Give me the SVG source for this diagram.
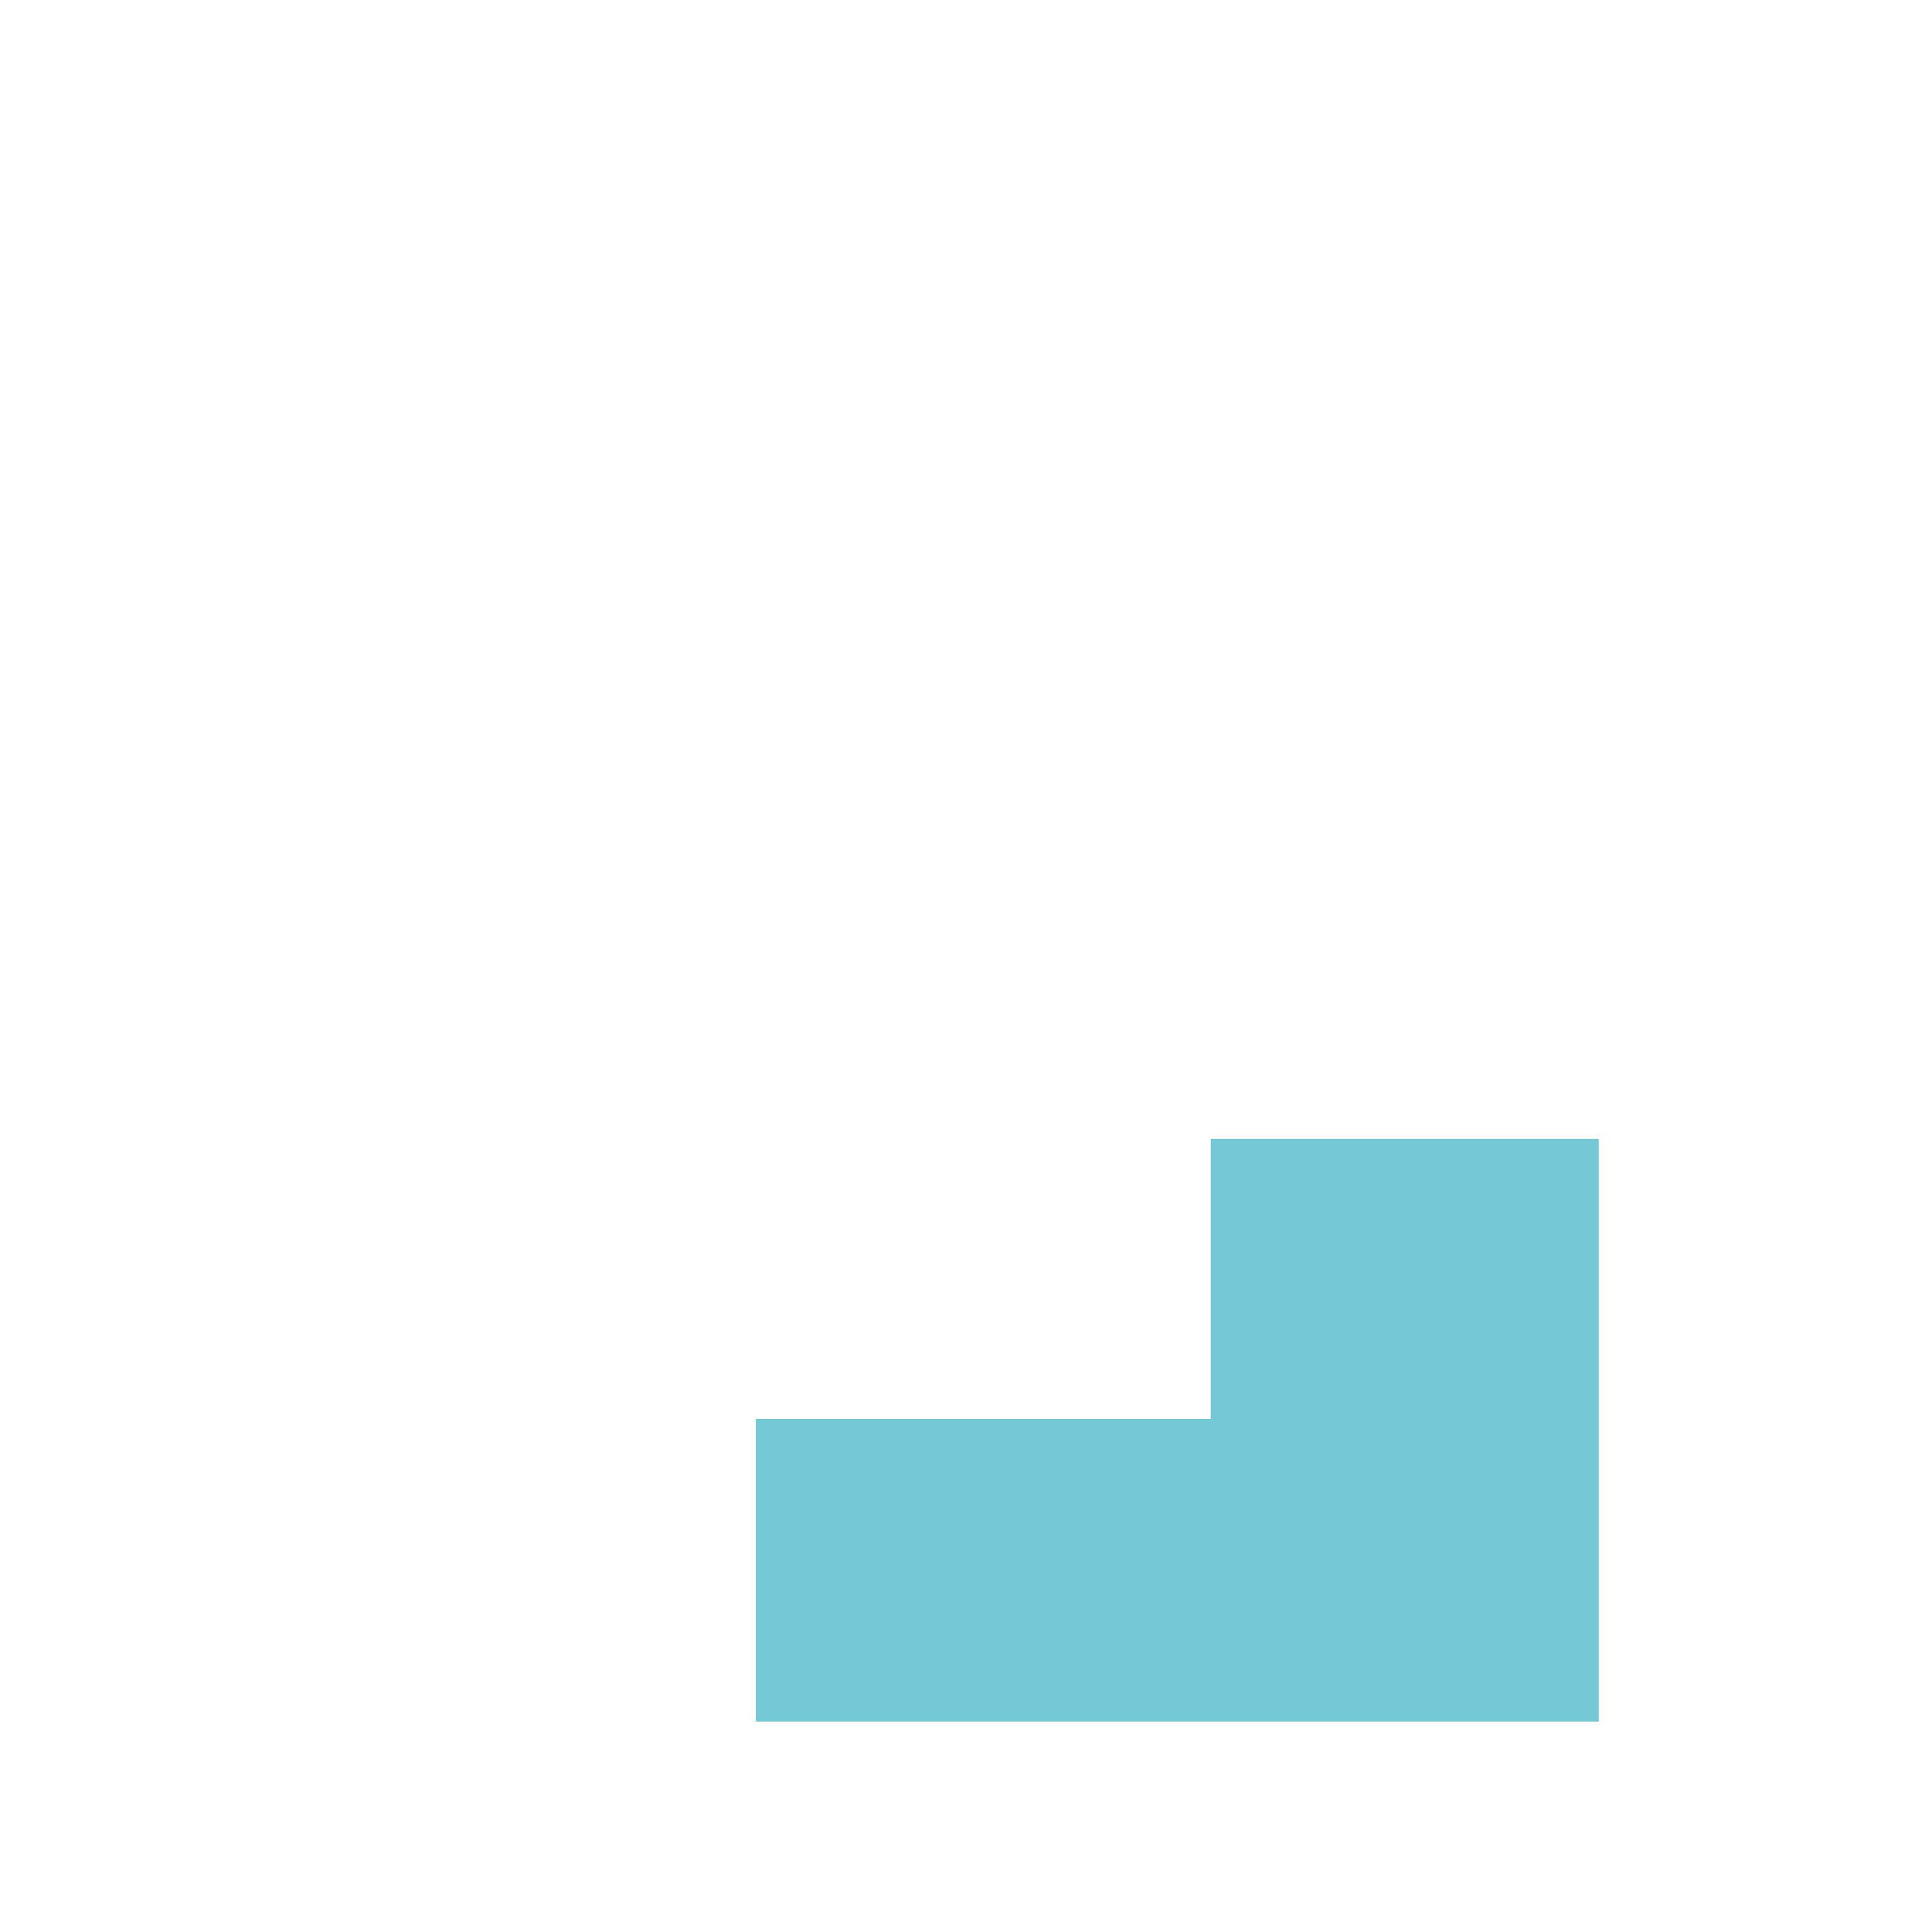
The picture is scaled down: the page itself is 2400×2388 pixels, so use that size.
<svg xmlns="http://www.w3.org/2000/svg" width="2400" height="2388" viewBox="0 0 2400 2388"><rect width="2400" height="2388" fill="#ffffff"/><g id="shape"><polygon points="1504,1415 1986,1415 1986,2139 939,2139 939,1763 1504,1763" fill="#73C9D6"/></g></svg>
